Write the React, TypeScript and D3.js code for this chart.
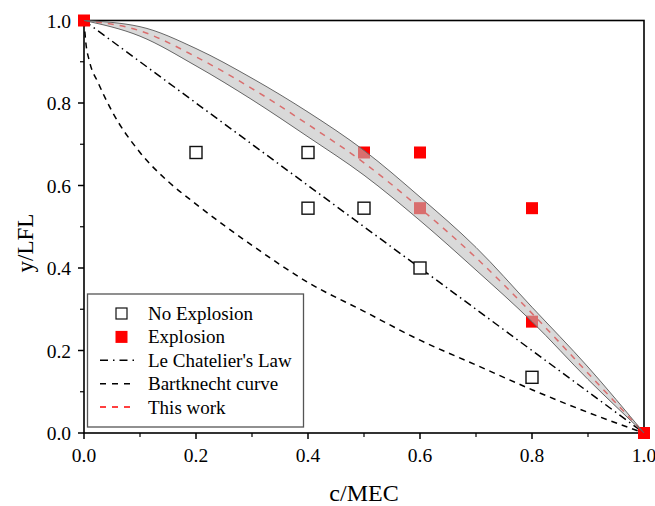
import React from 'react';
import * as d3 from 'd3';

const noExpX = [0.2, 0.4, 0.4, 0.5, 0.6, 0.8];
const noExpY = [0.68, 0.68, 0.545, 0.545, 0.4, 0.135];
const expX = [0, 0.5, 0.6, 0.6, 0.8, 0.8, 1.0];
const expY = [1.0, 0.68, 0.68, 0.545, 0.545, 0.27, 0];

// Le Chatelier's law (straight line)
const chatX = [0, 1];
const chatY = [1, 0];

// Bartknecht curve
const bartX = [0, 0.003, 0.01, 0.025, 0.05, 0.1, 0.15, 0.2, 0.3, 0.4, 0.5, 0.6, 0.7, 0.8, 0.9, 1.0];
const bartY = [1.0, 0.95, 0.9, 0.85, 0.78, 0.68, 0.61, 0.555, 0.455, 0.365, 0.295, 0.225, 0.165, 0.105, 0.05, 0];

// this work: centre line and uncertainty band
const workX = [0, 0.1, 0.2, 0.3, 0.4, 0.5, 0.6, 0.7, 0.8, 0.9, 1.0];
const workY = [1.0, 0.975, 0.912, 0.835, 0.748, 0.655, 0.545, 0.425, 0.29, 0.145, 0];
const bandHi = [1.0, 0.985, 0.932, 0.86, 0.778, 0.685, 0.572, 0.45, 0.305, 0.16, 0];
const bandLo = [1.0, 0.962, 0.89, 0.808, 0.718, 0.625, 0.515, 0.395, 0.27, 0.13, 0];

const xTicks = [0, 0.2, 0.4, 0.6, 0.8, 1.0];
const yTicks = [0, 0.2, 0.4, 0.6, 0.8, 1.0];
const minorTicks = [0.1, 0.3, 0.5, 0.7, 0.9];

const font = "'Liberation Serif', serif";

export default function App() {
  const x = d3.scaleLinear().domain([0, 1]).range([84, 644]);
  const y = d3.scaleLinear().domain([0, 1]).range([433, 20.5]);

  const line = d3
    .line<[number, number]>()
    .x((d) => x(d[0]))
    .y((d) => y(d[1]))
    .curve(d3.curveMonotoneX);

  const area = d3
    .area<number>()
    .x((d) => x(d))
    .y0((d, i) => y(bandLo[i]))
    .y1((d, i) => y(bandHi[i]))
    .curve(d3.curveMonotoneX);

  const zip = (a: number[], b: number[]) => a.map((v, i) => [v, b[i]] as [number, number]);
  const sq = 12;

  const legendRows = [
    { label: 'No Explosion', kind: 'open' },
    { label: 'Explosion', kind: 'fill' },
    { label: "Le Chatelier's Law", kind: 'dashdot' },
    { label: 'Bartknecht curve', kind: 'dash' },
    { label: 'This work', kind: 'red' },
  ];

  return (
    <svg
      width={655}
      height={506}
      style={{ position: 'absolute', left: 0, top: 0, background: '#fff', fontFamily: font }}
    >
      {/* frame */}
      <rect x={84} y={20.5} width={560} height={412.5} fill="none" stroke="#000" strokeWidth={1.6} />

      {/* x ticks */}
      {xTicks.map((t) => (
        <g key={'xt' + t}>
          <line x1={x(t)} x2={x(t)} y1={433} y2={439} stroke="#000" strokeWidth={1.5} />
          <text x={x(t)} y={462} fontSize={19.5} textAnchor="middle">
            {t.toFixed(1)}
          </text>
        </g>
      ))}
      {minorTicks.map((t) => (
        <line key={'xm' + t} x1={x(t)} x2={x(t)} y1={433} y2={437} stroke="#000" strokeWidth={1.2} />
      ))}

      {/* y ticks */}
      {yTicks.map((t) => (
        <g key={'yt' + t}>
          <line x1={78} x2={84} y1={y(t)} y2={y(t)} stroke="#000" strokeWidth={1.5} />
          <text x={71} y={y(t) + 7} fontSize={19.5} textAnchor="end">
            {t.toFixed(1)}
          </text>
        </g>
      ))}
      {minorTicks.map((t) => (
        <line key={'ym' + t} x1={80} x2={84} y1={y(t)} y2={y(t)} stroke="#000" strokeWidth={1.2} />
      ))}

      <text x={364} y={501} fontSize={24} textAnchor="middle">
        c/MEC
      </text>
      <text transform="translate(33,243) rotate(-90)" fontSize={23} textAnchor="middle">
        y/LFL
      </text>

      {/* lines */}
      <path d={line(zip(chatX, chatY)) || ''} fill="none" stroke="#000" strokeWidth={1.5} strokeDasharray="8,4,1.5,4" />
      <path d={line(zip(bartX, bartY)) || ''} fill="none" stroke="#000" strokeWidth={1.5} strokeDasharray="6,5" />

      {/* markers */}
      {noExpX.map((v, i) => (
        <rect
          key={'n' + i}
          x={x(v) - sq / 2}
          y={y(noExpY[i]) - sq / 2}
          width={sq}
          height={sq}
          fill="#fff"
          stroke="#111"
          strokeWidth={1.4}
        />
      ))}
      {expX.map((v, i) => (
        <rect key={'e' + i} x={x(v) - sq / 2} y={y(expY[i]) - sq / 2} width={sq} height={sq} fill="#ff0000" />
      ))}

      <path d={line(zip(workX, workY)) || ''} fill="none" stroke="#ff0000" strokeWidth={1.5} strokeDasharray="6,6" />

      {/* band */}
      <path d={area(workX) || ''} fill="#bdbdbd" fillOpacity={0.58} stroke="#666" strokeWidth={1} />

      {/* legend */}
      <rect x={87.5} y={294} width={216} height={133} fill="#fff" stroke="#555" strokeWidth={1.3} />
      {legendRows.map((r, i) => {
        const cy = 313.5 + i * 23.4;
        let mark: React.ReactNode = null;
        if (r.kind === 'open')
          mark = <rect x={116} y={cy - 5.5} width={11} height={11} fill="#fff" stroke="#111" strokeWidth={1.2} />;
        else if (r.kind === 'fill') mark = <rect x={115.5} y={cy - 6} width={12} height={12} fill="#ff0000" />;
        else if (r.kind === 'dashdot')
          mark = <line x1={100} x2={134} y1={cy} y2={cy} stroke="#000" strokeWidth={1.5} strokeDasharray="8,5,1.5,5" />;
        else if (r.kind === 'dash')
          mark = <line x1={100} x2={134} y1={cy} y2={cy} stroke="#000" strokeWidth={1.5} strokeDasharray="6,6" />;
        else mark = <line x1={100} x2={134} y1={cy} y2={cy} stroke="#ff0000" strokeWidth={1.5} strokeDasharray="6,6" />;
        return (
          <g key={r.label}>
            {mark}
            <text x={148} y={cy + 6.5} fontSize={19}>
              {r.label}
            </text>
          </g>
        );
      })}
    </svg>
  );
}
